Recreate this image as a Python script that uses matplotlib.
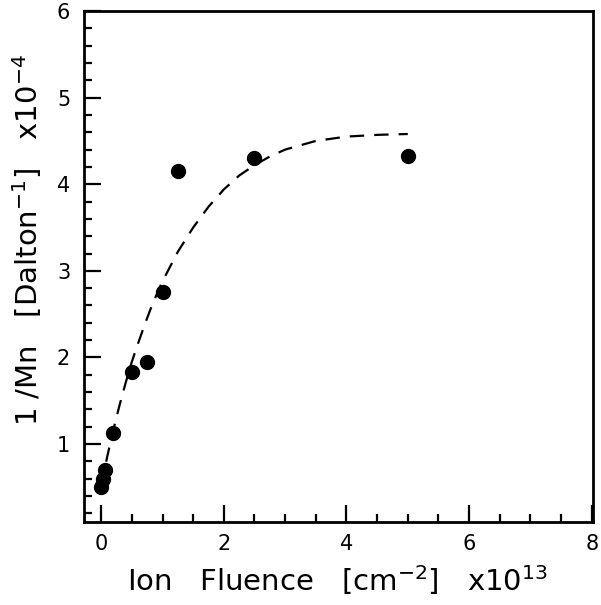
import matplotlib
matplotlib.use("Agg")
import matplotlib.pyplot as plt
from matplotlib.ticker import MultipleLocator

plt.rcParams['font.family'] = ['DejaVu Sans']
plt.rcParams['mathtext.fontset'] = 'dejavusans'

# measured points
fluence = [0.0, 0.03, 0.06, 0.2, 0.5, 0.75, 1.0, 1.25, 2.5, 5.0]
inv_mn = [0.50, 0.60, 0.70, 1.13, 1.83, 1.95, 2.75, 4.15, 4.30, 4.33]

# dashed fit curve
fit_x = [0.0, 0.1, 0.2, 0.3, 0.4, 0.5, 0.6, 0.7, 0.8, 0.9, 1.0, 1.25, 1.5, 1.75,
         2.0, 2.25, 2.5, 2.75, 3.0, 3.5, 4.0, 4.5, 5.0]
fit_y = [0.52, 0.86, 1.17, 1.45, 1.71, 1.95, 2.16, 2.36, 2.55, 2.72, 2.88, 3.22,
         3.50, 3.74, 3.94, 4.10, 4.22, 4.32, 4.40, 4.50, 4.55, 4.57, 4.58]

fig = plt.figure(figsize=(6.01, 6.05), dpi=100)
ax = fig.add_axes([0.1398, 0.1372, 0.8469, 0.8446])

ax.plot(fit_x, fit_y, color='black', lw=1.6, linestyle=(0, (6.5, 4.5)))
ax.plot(fluence, inv_mn, 'o', color='black', markersize=10)

ax.set_xlim(-0.28, 8.02)
ax.set_ylim(0.1, 6.0)
ax.xaxis.set_major_locator(MultipleLocator(2))
ax.xaxis.set_minor_locator(MultipleLocator(0.5))
ax.yaxis.set_major_locator(MultipleLocator(1))
ax.yaxis.set_minor_locator(MultipleLocator(0.2))
ax.tick_params(which='both', direction='in', top=False, right=False, width=1.6,
               labelsize=15)
ax.tick_params(axis='x', pad=9)
ax.tick_params(axis='y', pad=10)
ax.tick_params(which='major', length=12)
ax.tick_params(which='minor', length=6)
for s in ax.spines.values():
    s.set_linewidth(2.0)

ax.set_xlabel(r'Ion   Fluence   [cm$^{-2}$]   x10$^{13}$', fontsize=21)
ax.set_ylabel(r'1 /Mn   [Dalton$^{-1}$]   x10$^{-4}$', fontsize=21)
ax.xaxis.set_label_coords(0.498, -0.113)
ax.yaxis.set_label_coords(-0.112, 0.552)
ax.xaxis.label.set_va('center')
ax.yaxis.label.set_va('center')

fig.savefig('out.png', dpi=100)
